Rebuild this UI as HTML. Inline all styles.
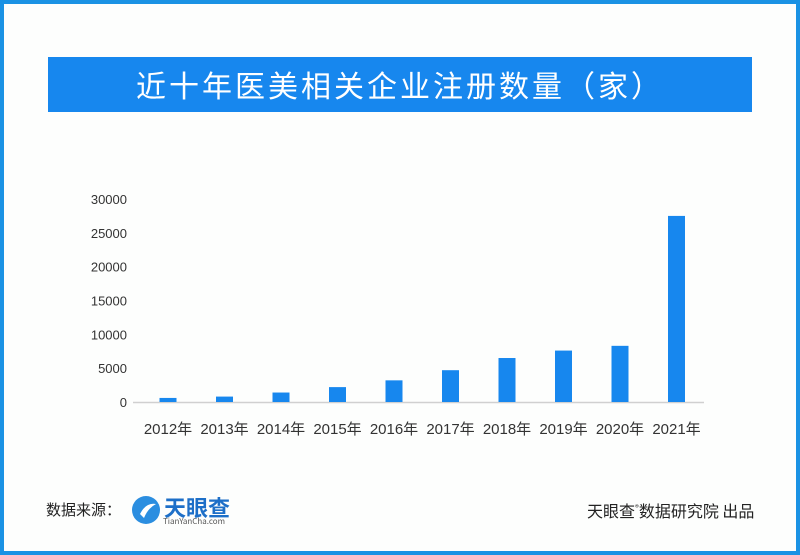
<!DOCTYPE html>
<html><head><meta charset="utf-8"><style>
body{margin:0;width:800px;height:555px;overflow:hidden;background:#fff;font-family:"Liberation Sans","Noto Sans CJK SC",sans-serif}
#frame{position:absolute;left:0;top:0;width:792px;height:547px;border:4px solid #1a92e4;background:#fdfefd}
#title{position:absolute;left:48px;top:57px;width:704px;height:55px;background:#1787ee;color:#fff;font-size:30px;line-height:55px;text-align:center;letter-spacing:3px;font-family:"Noto Sans CJK SC",sans-serif}
.ft{position:absolute;font-family:"Noto Sans CJK SC",sans-serif;color:#222;font-size:15px}
</style></head><body>
<div id="frame"></div>
<div id="title">近十年医美相关企业注册数量（家）</div>
<svg id="chart" width="800" height="555" style="position:absolute;left:0;top:0"></svg>
<div class="ft" style="left:46px;top:499px">数据来源：</div>
<svg width="32" height="32" style="position:absolute;left:130px;top:494px"><circle cx="16" cy="16" r="14" fill="#2b8ee0"/><path d="M10 20 Q16 8 26 10 Q18 14 14 24Z" fill="#fff"/></svg>
<div class="ft" style="left:164px;top:491px;font-size:22px;font-weight:bold;color:#1d6fc8">天眼查</div>
<div class="ft" style="left:163px;top:516px;font-size:8px;color:#555">TianYanCha.com</div>
<div class="ft" style="left:587px;top:498px;font-size:16px">天眼查<sup style="font-size:8px">®</sup>数据研究院 出品</div>
<script>
const categories=["2012年","2013年","2014年","2015年","2016年","2017年","2018年","2019年","2020年","2021年"];
const values=[600,800,1400,2200,3200,4700,6500,7600,8300,27500];
const yTicks=[0,5000,10000,15000,20000,25000,30000];
const NS="http://www.w3.org/2000/svg";
const svg=document.getElementById("chart");
const y0=402,yTop=199,yMax=30000;
const y=v=>y0-(v/yMax)*(y0-yTop);
const x=i=>168+i*56.5;
function mk(t,a){const e=document.createElementNS(NS,t);for(const k in a)e.setAttribute(k,a[k]);svg.appendChild(e);return e;}
const ax=mk("line",{x1:133,x2:704,y1:y0+0.5,y2:y0+0.5,stroke:"#d0d0d0","stroke-width":1.5});


yTicks.forEach(v=>{const t=mk("text",{x:127,y:y(v)+5,"text-anchor":"end","font-size":13,fill:"#333"});t.textContent=v;

});
categories.forEach((c,i)=>{
const r=mk("rect",{x:x(i)-8.5,y:y(values[i]),width:17,height:y0-y(values[i]),fill:"#1787ee"});


const t=mk("text",{x:x(i),y:434,"text-anchor":"middle","font-size":15,fill:"#333","font-family":"Liberation Sans, Noto Sans CJK SC, sans-serif"});t.textContent=c;


});
</script>
</body></html>
